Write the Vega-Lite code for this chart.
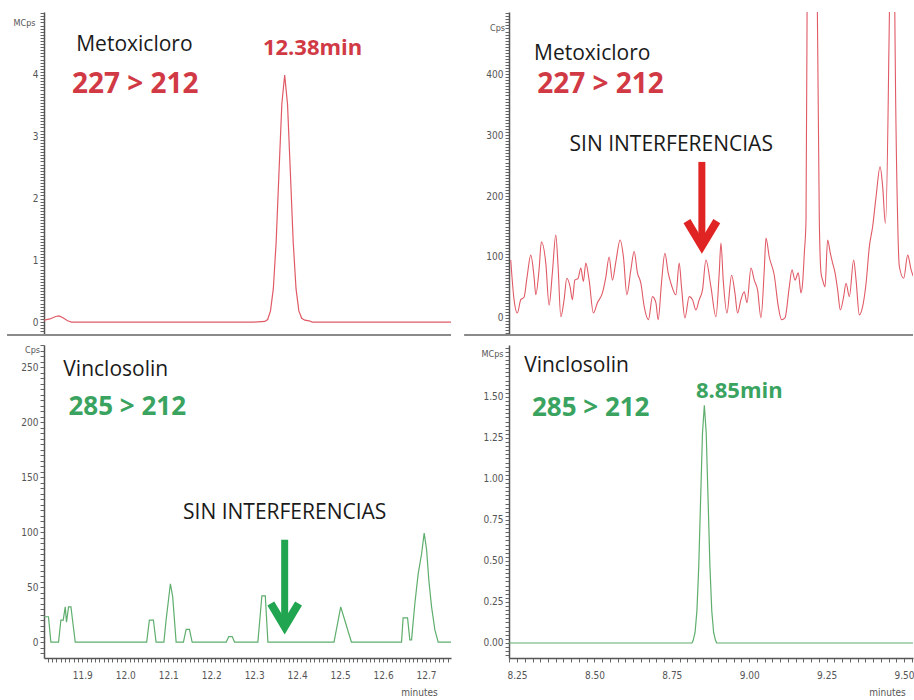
{
  "$schema": "https://vega.github.io/schema/vega-lite/v6.json",
  "background": "white",
  "padding": {"left": 3, "top": 8, "right": 0, "bottom": 0},
  "config": {
    "view": {"stroke": null},
    "axis": {"grid": false, "labelFont": "Liberation Sans Narrow, DejaVu Sans Condensed, sans-serif", "titleFont": "Liberation Sans Narrow, DejaVu Sans Condensed, sans-serif", "labelColor": "#555555", "titleColor": "#555555", "tickColor": "#666666", "domainColor": "#555555"},
    "text": {"font": "Open Sans"}
  },
  "datasets": {
    "tl": [
      {"t": 11.811, "v": 0.03}, {"t": 11.825, "v": 0.05}, {"t": 11.838, "v": 0.09}, {"t": 11.846, "v": 0.10},
      {"t": 11.855, "v": 0.07}, {"t": 11.866, "v": 0.02}, {"t": 11.875, "v": 0.0}, {"t": 12.300, "v": 0.0},
      {"t": 12.325, "v": 0.01}, {"t": 12.3314, "v": 0.04}, {"t": 12.338, "v": 0.18}, {"t": 12.3446, "v": 0.54},
      {"t": 12.3512, "v": 1.30}, {"t": 12.3578, "v": 2.43}, {"t": 12.3644, "v": 3.53}, {"t": 12.371, "v": 4.0},
      {"t": 12.3776, "v": 3.53}, {"t": 12.3842, "v": 2.43}, {"t": 12.3908, "v": 1.30}, {"t": 12.3974, "v": 0.54},
      {"t": 12.404, "v": 0.18}, {"t": 12.4106, "v": 0.06}, {"t": 12.418, "v": 0.03}, {"t": 12.428, "v": 0.02},
      {"t": 12.435, "v": 0.0}, {"t": 12.758, "v": 0.0}
    ],
    "tr": [
      {"t": 8.2296, "v": 95}, {"t": 8.2403, "v": 30}, {"t": 8.2510, "v": 8}, {"t": 8.2620, "v": 30},
      {"t": 8.2726, "v": 34}, {"t": 8.2823, "v": 67}, {"t": 8.2943, "v": 103}, {"t": 8.3050, "v": 67},
      {"t": 8.3105, "v": 38}, {"t": 8.3211, "v": 79}, {"t": 8.3286, "v": 125}, {"t": 8.3428, "v": 90},
      {"t": 8.3535, "v": 21}, {"t": 8.3641, "v": 74}, {"t": 8.3751, "v": 136}, {"t": 8.3826, "v": 84},
      {"t": 8.3913, "v": 2}, {"t": 8.4020, "v": 30}, {"t": 8.4107, "v": 65}, {"t": 8.4214, "v": 51},
      {"t": 8.4288, "v": 30}, {"t": 8.4366, "v": 62}, {"t": 8.4472, "v": 65}, {"t": 8.4559, "v": 82},
      {"t": 8.4644, "v": 60}, {"t": 8.4721, "v": 90}, {"t": 8.4828, "v": 62}, {"t": 8.4967, "v": 8},
      {"t": 8.5096, "v": 25}, {"t": 8.5258, "v": 41}, {"t": 8.5368, "v": 67}, {"t": 8.5474, "v": 100},
      {"t": 8.5581, "v": 62}, {"t": 8.5691, "v": 92}, {"t": 8.5830, "v": 128}, {"t": 8.5937, "v": 100},
      {"t": 8.6047, "v": 38}, {"t": 8.6176, "v": 79}, {"t": 8.6283, "v": 109}, {"t": 8.6389, "v": 74},
      {"t": 8.6499, "v": 57}, {"t": 8.6606, "v": 19}, {"t": 8.6745, "v": -3}, {"t": 8.6874, "v": 35},
      {"t": 8.6984, "v": 25}, {"t": 8.7059, "v": -3}, {"t": 8.7165, "v": 57}, {"t": 8.7275, "v": 106},
      {"t": 8.7382, "v": 74}, {"t": 8.7469, "v": 57}, {"t": 8.7631, "v": 38}, {"t": 8.7738, "v": 90},
      {"t": 8.7812, "v": 51}, {"t": 8.7922, "v": 0}, {"t": 8.8061, "v": 35}, {"t": 8.8168, "v": 30},
      {"t": 8.8278, "v": 13}, {"t": 8.8384, "v": 30}, {"t": 8.8491, "v": 46}, {"t": 8.8601, "v": 95},
      {"t": 8.8763, "v": 51}, {"t": 8.8924, "v": 2}, {"t": 8.9031, "v": 74}, {"t": 8.9086, "v": 123},
      {"t": 8.9160, "v": 62}, {"t": 8.9280, "v": 8}, {"t": 8.9429, "v": 70}, {"t": 8.9538, "v": 41},
      {"t": 8.9623, "v": 8}, {"t": 8.9732, "v": 30}, {"t": 8.9839, "v": 43}, {"t": 8.9927, "v": 25},
      {"t": 9.0056, "v": 82}, {"t": 9.0163, "v": 62}, {"t": 9.0269, "v": 46}, {"t": 9.0379, "v": 0},
      {"t": 9.0486, "v": 79}, {"t": 9.0541, "v": 131}, {"t": 9.0647, "v": 100}, {"t": 9.0809, "v": 70},
      {"t": 9.0938, "v": 19}, {"t": 9.1045, "v": -3}, {"t": 9.1155, "v": 0}, {"t": 9.1294, "v": 51},
      {"t": 9.1381, "v": 79}, {"t": 9.1478, "v": 62}, {"t": 9.1585, "v": 74}, {"t": 9.1672, "v": 41},
      {"t": 9.1724, "v": 57}, {"t": 9.1779, "v": 106}, {"t": 9.1834, "v": 160}, {"t": 9.1876, "v": 600},
      {"t": 9.2031, "v": 3000}, {"t": 9.2183, "v": 600}, {"t": 9.2264, "v": 160}, {"t": 9.2319, "v": 74},
      {"t": 9.2371, "v": 62}, {"t": 9.2448, "v": 51}, {"t": 9.2532, "v": 128}, {"t": 9.2620, "v": 106},
      {"t": 9.2694, "v": 90}, {"t": 9.2772, "v": 74}, {"t": 9.2856, "v": 46}, {"t": 9.2943, "v": 13},
      {"t": 9.3050, "v": 35}, {"t": 9.3127, "v": 57}, {"t": 9.3234, "v": 35}, {"t": 9.3373, "v": 95},
      {"t": 9.3451, "v": 62}, {"t": 9.3557, "v": 5}, {"t": 9.3664, "v": 19}, {"t": 9.3774, "v": 57},
      {"t": 9.3880, "v": 117}, {"t": 9.3987, "v": 150}, {"t": 9.4097, "v": 199}, {"t": 9.4227, "v": 248},
      {"t": 9.4311, "v": 215}, {"t": 9.4398, "v": 155}, {"t": 9.4504, "v": 412}, {"t": 9.4543, "v": 600},
      {"t": 9.4608, "v": 2000}, {"t": 9.4689, "v": 600}, {"t": 9.4795, "v": 160}, {"t": 9.4850, "v": 84},
      {"t": 9.4990, "v": 65}, {"t": 9.5119, "v": 103}, {"t": 9.5229, "v": 79}, {"t": 9.5303, "v": 68}
    ],
    "bl": [
      {"t": 11.811, "v": 23}, {"t": 11.8214, "v": 23}, {"t": 11.827, "v": 0}, {"t": 11.8448, "v": 0},
      {"t": 11.8503, "v": 20}, {"t": 11.8557, "v": 20}, {"t": 11.8604, "v": 32}, {"t": 11.8634, "v": 18},
      {"t": 11.8681, "v": 32}, {"t": 11.8737, "v": 32}, {"t": 11.8774, "v": 20}, {"t": 11.8837, "v": 0},
      {"t": 12.0499, "v": 0}, {"t": 12.0562, "v": 20}, {"t": 12.0655, "v": 20}, {"t": 12.0718, "v": 0},
      {"t": 12.090, "v": 0}, {"t": 12.0951, "v": 20}, {"t": 12.1051, "v": 53}, {"t": 12.1105, "v": 41},
      {"t": 12.1184, "v": 0}, {"t": 12.1354, "v": 0}, {"t": 12.1417, "v": 11.5}, {"t": 12.1494, "v": 11.5},
      {"t": 12.1557, "v": 0}, {"t": 12.235, "v": 0}, {"t": 12.241, "v": 5}, {"t": 12.249, "v": 5},
      {"t": 12.2543, "v": 0}, {"t": 12.3086, "v": 0}, {"t": 12.318, "v": 42}, {"t": 12.3259, "v": 42},
      {"t": 12.332, "v": 0}, {"t": 12.4858, "v": 0}, {"t": 12.5014, "v": 32}, {"t": 12.5107, "v": 20},
      {"t": 12.52, "v": 8}, {"t": 12.5263, "v": 0}, {"t": 12.6429, "v": 0}, {"t": 12.6466, "v": 22},
      {"t": 12.6569, "v": 22}, {"t": 12.6622, "v": 2}, {"t": 12.6662, "v": 2}, {"t": 12.6739, "v": 35},
      {"t": 12.6816, "v": 62}, {"t": 12.6895, "v": 80}, {"t": 12.6956, "v": 99}, {"t": 12.7012, "v": 84},
      {"t": 12.7065, "v": 56}, {"t": 12.7128, "v": 32}, {"t": 12.7205, "v": 11}, {"t": 12.7282, "v": 0},
      {"t": 12.758, "v": 0}
    ],
    "br": [
      {"t": 8.224, "v": 0}, {"t": 8.815, "v": 0}, {"t": 8.819, "v": 0.016}, {"t": 8.825, "v": 0.064},
      {"t": 8.831, "v": 0.196}, {"t": 8.837, "v": 0.47}, {"t": 8.843, "v": 0.88}, {"t": 8.849, "v": 1.28},
      {"t": 8.855, "v": 1.45}, {"t": 8.861, "v": 1.28}, {"t": 8.867, "v": 0.88}, {"t": 8.873, "v": 0.47},
      {"t": 8.879, "v": 0.196}, {"t": 8.885, "v": 0.064}, {"t": 8.891, "v": 0.016}, {"t": 8.895, "v": 0},
      {"t": 9.529, "v": 0}
    ]
  },
  "bounds": "flush",
  "spacing": {"row": 10, "column": 58},
  "columns": 2,
  "concat": [
    {
      "width": 407, "height": 323,
      "resolve": {"axis": {"x": "independent", "y": "independent"}},
      "layer": [
        {
          "data": {"name": "tl"},
          "mark": {"type": "line", "color": "#e05a66", "strokeWidth": 1.2, "clip": true},
          "encoding": {
            "x": {"field": "t", "type": "quantitative", "scale": {"domain": [11.811, 12.758], "nice": false, "zero": false}, "axis": null},
            "y": {"field": "v", "type": "quantitative", "scale": {"domain": [-0.21, 5.02], "nice": false, "zero": false},
                  "axis": {"orient": "left", "tickCount": 100, "tickSize": 4, "labelOverlap": false, "labelFontSize": 10, "labelPadding": 2, "domainWidth": 1.5,
                           "labelExpr": "abs(datum.value - round(datum.value)) < 0.000001 && datum.value >= 0 && datum.value <= 4 ? format(datum.value, '.0f') : ''",
                           "title": "MCps", "titleAngle": 0, "titleX": -20, "titleY": 10, "titleFontSize": 9, "titleFontWeight": "normal", "titleAlign": "center", "titleBaseline": "middle"}}
          }
        },
        {
          "data": {"values": [{"t": 11.725, "v": -0.21}, {"t": 12.758, "v": -0.21}]},
          "mark": {"type": "line", "color": "#8a8a8a", "strokeWidth": 2, "clip": false},
          "encoding": {"x": {"field": "t", "type": "quantitative", "axis": null}, "y": {"field": "v", "type": "quantitative", "axis": null}}
        },
        {
          "data": {"values": [{"t": 11.886, "v": 4.49, "label": "Metoxicloro"}]},
          "mark": {"type": "text", "align": "left", "baseline": "middle", "fontSize": 21, "color": "#1a1a1a"},
          "encoding": {"x": {"field": "t", "type": "quantitative", "axis": null}, "y": {"field": "v", "type": "quantitative", "axis": null}, "text": {"field": "label"}}
        },
        {
          "data": {"values": [{"t": 11.876, "v": 3.84, "label": "227 > 212"}]},
          "mark": {"type": "text", "align": "left", "baseline": "middle", "fontSize": 28, "fontWeight": "bold", "color": "#d13a45"},
          "encoding": {"x": {"field": "t", "type": "quantitative", "axis": null}, "y": {"field": "v", "type": "quantitative", "axis": null}, "text": {"field": "label"}}
        },
        {
          "data": {"values": [{"t": 12.436, "v": 4.44, "label": "12.38min"}]},
          "mark": {"type": "text", "align": "center", "baseline": "middle", "fontSize": 22, "fontWeight": "bold", "color": "#d13a45"},
          "encoding": {"x": {"field": "t", "type": "quantitative", "axis": null}, "y": {"field": "v", "type": "quantitative", "axis": null}, "text": {"field": "label"}}
        }
      ]
    },
    {
      "width": 404, "height": 323,
      "resolve": {"axis": {"x": "independent", "y": "independent"}},
      "layer": [
        {
          "data": {"name": "tr"},
          "mark": {"type": "line", "color": "#e05a66", "strokeWidth": 1.1, "clip": true, "interpolate": "monotone"},
          "encoding": {
            "x": {"field": "t", "type": "quantitative", "scale": {"domain": [8.224, 9.529], "nice": false, "zero": false}, "axis": null},
            "y": {"field": "v", "type": "quantitative", "scale": {"domain": [-28, 502], "nice": false, "zero": false},
                  "axis": {"orient": "left", "tickCount": 100, "tickSize": 4, "labelOverlap": false, "labelFontSize": 10, "labelPadding": 2, "domainWidth": 1.5,
                           "labelExpr": "datum.value % 100 == 0 && datum.value >= 0 && datum.value <= 400 ? format(datum.value, 'd') : ''",
                           "title": "Cps", "titleAngle": 0, "titleX": -12, "titleY": 15, "titleFontSize": 9, "titleFontWeight": "normal", "titleAlign": "center", "titleBaseline": "middle"}}
          }
        },
        {
          "data": {"values": [{"t": 8.079, "v": -28}, {"t": 9.529, "v": -28}]},
          "mark": {"type": "line", "color": "#8a8a8a", "strokeWidth": 2, "clip": false},
          "encoding": {"x": {"field": "t", "type": "quantitative", "axis": null}, "y": {"field": "v", "type": "quantitative", "axis": null}}
        },
        {
          "data": {"values": [{"t": 8.305, "v": 433, "label": "Metoxicloro"}]},
          "mark": {"type": "text", "align": "left", "baseline": "middle", "fontSize": 21, "color": "#1a1a1a"},
          "encoding": {"x": {"field": "t", "type": "quantitative", "axis": null}, "y": {"field": "v", "type": "quantitative", "axis": null}, "text": {"field": "label"}}
        },
        {
          "data": {"values": [{"t": 8.315, "v": 382, "label": "227 > 212"}]},
          "mark": {"type": "text", "align": "left", "baseline": "middle", "fontSize": 28, "fontWeight": "bold", "color": "#d13a45"},
          "encoding": {"x": {"field": "t", "type": "quantitative", "axis": null}, "y": {"field": "v", "type": "quantitative", "axis": null}, "text": {"field": "label"}}
        },
        {
          "data": {"values": [{"t": 8.748, "v": 284, "label": "SIN INTERFERENCIAS"}]},
          "mark": {"type": "text", "align": "center", "baseline": "middle", "fontSize": 21, "color": "#1a1a1a"},
          "encoding": {"x": {"field": "t", "type": "quantitative", "axis": null}, "y": {"field": "v", "type": "quantitative", "axis": null}, "text": {"field": "label"}}
        },
        {
          "data": {"values": [{"t": 8.847, "top": 256, "bottom": 125}]},
          "mark": {"type": "rule", "color": "#e02424", "strokeWidth": 7},
          "encoding": {"x": {"field": "t", "type": "quantitative", "axis": null}, "y": {"field": "top", "type": "quantitative", "axis": null}, "y2": {"field": "bottom"}}
        },
        {
          "data": {"values": [{"t": 8.847, "tip": 118}]},
          "mark": {"type": "point", "shape": "M-0.9,-1.5L0,0L0.9,-1.5", "filled": false, "color": "#e02424", "strokeWidth": 8, "size": 1100, "opacity": 1, "strokeJoin": "miter", "strokeCap": "butt"},
          "encoding": {"x": {"field": "t", "type": "quantitative", "axis": null}, "y": {"field": "tip", "type": "quantitative", "axis": null}}
        }
      ]
    },
    {
      "width": 407, "height": 313,
      "resolve": {"axis": {"x": "independent", "y": "independent"}},
      "layer": [
        {
          "data": {"name": "bl"},
          "mark": {"type": "line", "color": "#5fae6e", "strokeWidth": 1.2, "clip": true},
          "encoding": {
            "x": {"field": "t", "type": "quantitative", "scale": {"domain": [11.811, 12.758], "nice": false, "zero": false},
                  "axis": {"orient": "bottom", "tickCount": 95, "tickSize": 4, "labelOverlap": false, "labelFlush": false, "labelFontSize": 10, "labelPadding": 8, "domainWidth": 1.5,
                           "labelExpr": "abs(datum.value * 10 - round(datum.value * 10)) < 0.000001 ? format(datum.value, '.1f') : ''",
                           "title": "minutes", "titleX": 375, "titleY": 34, "titleFontSize": 10, "titleFontWeight": "normal", "titleAlign": "center", "titleBaseline": "middle"}},
            "y": {"field": "v", "type": "quantitative", "scale": {"domain": [-14.5, 270], "nice": false, "zero": false},
                  "axis": {"orient": "left", "tickCount": 57, "tickSize": 4, "labelOverlap": false, "labelFontSize": 10, "labelPadding": 2, "domainWidth": 1.5,
                           "labelExpr": "datum.value % 50 == 0 && datum.value >= 0 ? format(datum.value, 'd') : ''",
                           "title": "Cps", "titleAngle": 0, "titleX": -12, "titleY": 4, "titleFontSize": 9, "titleFontWeight": "normal", "titleAlign": "center", "titleBaseline": "middle"}}
          }
        },
        {
          "data": {"values": [{"t": 11.856, "v": 247, "label": "Vinclosolin"}]},
          "mark": {"type": "text", "align": "left", "baseline": "middle", "fontSize": 21, "color": "#1a1a1a"},
          "encoding": {"x": {"field": "t", "type": "quantitative", "axis": null}, "y": {"field": "v", "type": "quantitative", "axis": null}, "text": {"field": "label"}}
        },
        {
          "data": {"values": [{"t": 11.868, "v": 214, "label": "285 > 212"}]},
          "mark": {"type": "text", "align": "left", "baseline": "middle", "fontSize": 26, "fontWeight": "bold", "color": "#3aa35f"},
          "encoding": {"x": {"field": "t", "type": "quantitative", "axis": null}, "y": {"field": "v", "type": "quantitative", "axis": null}, "text": {"field": "label"}}
        },
        {
          "data": {"values": [{"t": 12.371, "v": 117, "label": "SIN INTERFERENCIAS"}]},
          "mark": {"type": "text", "align": "center", "baseline": "middle", "fontSize": 21, "color": "#1a1a1a"},
          "encoding": {"x": {"field": "t", "type": "quantitative", "axis": null}, "y": {"field": "v", "type": "quantitative", "axis": null}, "text": {"field": "label"}}
        },
        {
          "data": {"values": [{"t": 12.371, "top": 93, "bottom": 18}]},
          "mark": {"type": "rule", "color": "#22a550", "strokeWidth": 7},
          "encoding": {"x": {"field": "t", "type": "quantitative", "axis": null}, "y": {"field": "top", "type": "quantitative", "axis": null}, "y2": {"field": "bottom"}}
        },
        {
          "data": {"values": [{"t": 12.371, "tip": 14}]},
          "mark": {"type": "point", "shape": "M-0.9,-1.5L0,0L0.9,-1.5", "filled": false, "color": "#22a550", "strokeWidth": 8, "size": 950, "opacity": 1, "strokeJoin": "miter", "strokeCap": "butt"},
          "encoding": {"x": {"field": "t", "type": "quantitative", "axis": null}, "y": {"field": "tip", "type": "quantitative", "axis": null}}
        }
      ]
    },
    {
      "width": 404, "height": 313,
      "resolve": {"axis": {"x": "independent", "y": "independent"}},
      "layer": [
        {
          "data": {"name": "br"},
          "mark": {"type": "line", "color": "#5fae6e", "strokeWidth": 1.2, "clip": true},
          "encoding": {
            "x": {"field": "t", "type": "quantitative", "scale": {"domain": [8.224, 9.529], "nice": false, "zero": false},
                  "axis": {"orient": "bottom", "tickSize": 4, "labelOverlap": false, "labelFlush": false, "labelFontSize": 10, "labelPadding": 8, "domainWidth": 1.5,
                           "values": [8.225, 8.25, 8.275, 8.3, 8.325, 8.35, 8.375, 8.4, 8.425, 8.45, 8.475, 8.5, 8.525, 8.55, 8.575, 8.6, 8.625, 8.65, 8.675, 8.7, 8.725, 8.75, 8.775, 8.8, 8.825, 8.85, 8.875, 8.9, 8.925, 8.95, 8.975, 9.0, 9.025, 9.05, 9.075, 9.1, 9.125, 9.15, 9.175, 9.2, 9.225, 9.25, 9.275, 9.3, 9.325, 9.35, 9.375, 9.4, 9.425, 9.45, 9.475, 9.5, 9.525],
                           "labelExpr": "abs(datum.value * 4 - round(datum.value * 4)) < 0.000001 ? format(datum.value, '.2f') : ''",
                           "title": "minutes", "titleX": 378, "titleY": 34, "titleFontSize": 10, "titleFontWeight": "normal", "titleAlign": "center", "titleBaseline": "middle"}},
            "y": {"field": "v", "type": "quantitative", "scale": {"domain": [-0.0915, 1.817], "nice": false, "zero": false},
                  "axis": {"orient": "left", "tickSize": 4, "labelOverlap": false, "labelFontSize": 10, "labelPadding": 2, "domainWidth": 1.5,
                           "values": [-0.075, -0.05, -0.025, 0, 0.025, 0.05, 0.075, 0.1, 0.125, 0.15, 0.175, 0.2, 0.225, 0.25, 0.275, 0.3, 0.325, 0.35, 0.375, 0.4, 0.425, 0.45, 0.475, 0.5, 0.525, 0.55, 0.575, 0.6, 0.625, 0.65, 0.675, 0.7, 0.725, 0.75, 0.775, 0.8, 0.825, 0.85, 0.875, 0.9, 0.925, 0.95, 0.975, 1.0, 1.025, 1.05, 1.075, 1.1, 1.125, 1.15, 1.175, 1.2, 1.225, 1.25, 1.275, 1.3, 1.325, 1.35, 1.375, 1.4, 1.425, 1.45, 1.475, 1.5, 1.525, 1.55, 1.575, 1.6, 1.625, 1.65, 1.675, 1.7, 1.725, 1.75, 1.775, 1.8],
                           "labelExpr": "abs(datum.value * 4 - round(datum.value * 4)) < 0.000001 && datum.value >= 0 && datum.value <= 1.5 ? format(datum.value, '.2f') : ''",
                           "title": "MCps", "titleAngle": 0, "titleX": -17, "titleY": 8, "titleFontSize": 9, "titleFontWeight": "normal", "titleAlign": "center", "titleBaseline": "middle"}}
          }
        },
        {
          "data": {"values": [{"t": 8.273, "v": 1.692, "label": "Vinclosolin"}]},
          "mark": {"type": "text", "align": "left", "baseline": "middle", "fontSize": 21, "color": "#1a1a1a"},
          "encoding": {"x": {"field": "t", "type": "quantitative", "axis": null}, "y": {"field": "v", "type": "quantitative", "axis": null}, "text": {"field": "label"}}
        },
        {
          "data": {"values": [{"t": 8.298, "v": 1.433, "label": "285 > 212"}]},
          "mark": {"type": "text", "align": "left", "baseline": "middle", "fontSize": 26, "fontWeight": "bold", "color": "#3aa35f"},
          "encoding": {"x": {"field": "t", "type": "quantitative", "axis": null}, "y": {"field": "v", "type": "quantitative", "axis": null}, "text": {"field": "label"}}
        },
        {
          "data": {"values": [{"t": 8.968, "v": 1.537, "label": "8.85min"}]},
          "mark": {"type": "text", "align": "center", "baseline": "middle", "fontSize": 22, "fontWeight": "bold", "color": "#3aa35f"},
          "encoding": {"x": {"field": "t", "type": "quantitative", "axis": null}, "y": {"field": "v", "type": "quantitative", "axis": null}, "text": {"field": "label"}}
        }
      ]
    }
  ]
}
